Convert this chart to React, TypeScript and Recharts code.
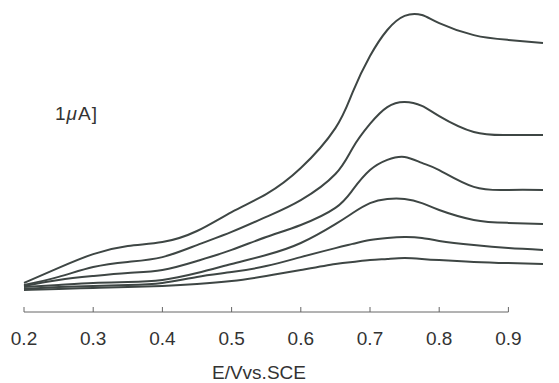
import { LineChart, Line, XAxis, YAxis, ReferenceLine } from "recharts";

// potential (V vs SCE)
const potentials = [0.2, 0.25, 0.3, 0.35, 0.4, 0.45, 0.5, 0.55, 0.6, 0.65, 0.675, 0.7, 0.725, 0.75, 0.775, 0.8, 0.85, 0.9, 0.95];

// current traces (μA, offset baseline), highest concentration first
const curve1 = [0.97, 1.47, 1.93, 2.2, 2.33, 2.7, 3.33, 3.93, 4.8, 6.13, 7.33, 8.53, 9.4, 9.87, 9.9, 9.63, 9.23, 9.07, 8.97];
const curve2 = [0.9, 1.17, 1.5, 1.67, 1.83, 2.23, 2.67, 3.17, 3.73, 4.6, 5.47, 6.27, 6.83, 7.0, 6.87, 6.53, 6.0, 5.9, 5.9];
const curve3 = [0.87, 1.07, 1.2, 1.3, 1.4, 1.7, 2.07, 2.5, 2.9, 3.47, 4.07, 4.73, 5.07, 5.17, 4.97, 4.73, 4.17, 4.07, 4.07];
const curve4 = [0.83, 0.9, 0.97, 1.0, 1.07, 1.3, 1.6, 1.9, 2.3, 2.93, 3.3, 3.63, 3.77, 3.77, 3.63, 3.4, 3.07, 2.97, 2.93];
const curve5 = [0.77, 0.83, 0.87, 0.9, 0.97, 1.17, 1.33, 1.53, 1.83, 2.13, 2.27, 2.4, 2.47, 2.5, 2.47, 2.37, 2.23, 2.13, 2.07];
const curve6 = [0.73, 0.77, 0.8, 0.83, 0.87, 0.93, 1.03, 1.2, 1.4, 1.6, 1.67, 1.73, 1.77, 1.8, 1.77, 1.73, 1.67, 1.63, 1.6];

const xTicks = [0.2, 0.3, 0.4, 0.5, 0.6, 0.7, 0.8, 0.9];

const curves = [curve1, curve2, curve3, curve4, curve5, curve6];
const data = potentials.map((x, i) => {
  const row: Record<string, number> = { x };
  curves.forEach((c, k) => (row[`c${k + 1}`] = c[i]));
  return row;
});

const font = "'Liberation Sans', Arial, Helvetica, sans-serif";
const lineColor = "#3e4644";

function Tick(props: any) {
  const { x, y, payload } = props;
  return (
    <g>
      <line x1={x} x2={x} y1={y - 5} y2={y} stroke="#666" strokeWidth={1} />
      <text x={x} y={y + 33} textAnchor="middle" fontSize={19} fill="#333" fontFamily={font}>
        {Number(payload.value).toFixed(1)}
      </text>
    </g>
  );
}

export default function App() {
  return (
    <div style={{ position: "absolute", left: 0, top: 0, width: 559, height: 383, background: "#fff" }}>
      <LineChart width={559} height={383} data={data} margin={{ top: 12, right: 16, left: 24, bottom: 0 }}>
        <XAxis
          dataKey="x"
          type="number"
          domain={[0.2, 0.95]}
          ticks={xTicks}
          axisLine={false}
          tickLine={false}
          tickSize={0}
          tickMargin={0}
          height={71}
          tick={<Tick />}
          interval={0}
        />
        <YAxis hide domain={[0, 10]} />
        <ReferenceLine
          segment={[
            { x: 0.2, y: 0 },
            { x: 0.9, y: 0 },
          ]}
          stroke="#666"
          strokeWidth={1}
        />
        {curves.map((_, k) => (
          <Line
            key={k}
            type="natural"
            dataKey={`c${k + 1}`}
            stroke={lineColor}
            strokeWidth={2}
            dot={false}
            isAnimationActive={false}
          />
        ))}
      </LineChart>
      <div style={{ position: "absolute", left: 55, top: 103, fontFamily: font, fontSize: 19, color: "#333", letterSpacing: 1 }}>
        1<i>μ</i>A]
      </div>
      <div style={{ position: "absolute", left: 0, width: 518, top: 362, textAlign: "center", fontFamily: font, fontSize: 19, color: "#333" }}>
        E/Vvs.SCE
      </div>
    </div>
  );
}
